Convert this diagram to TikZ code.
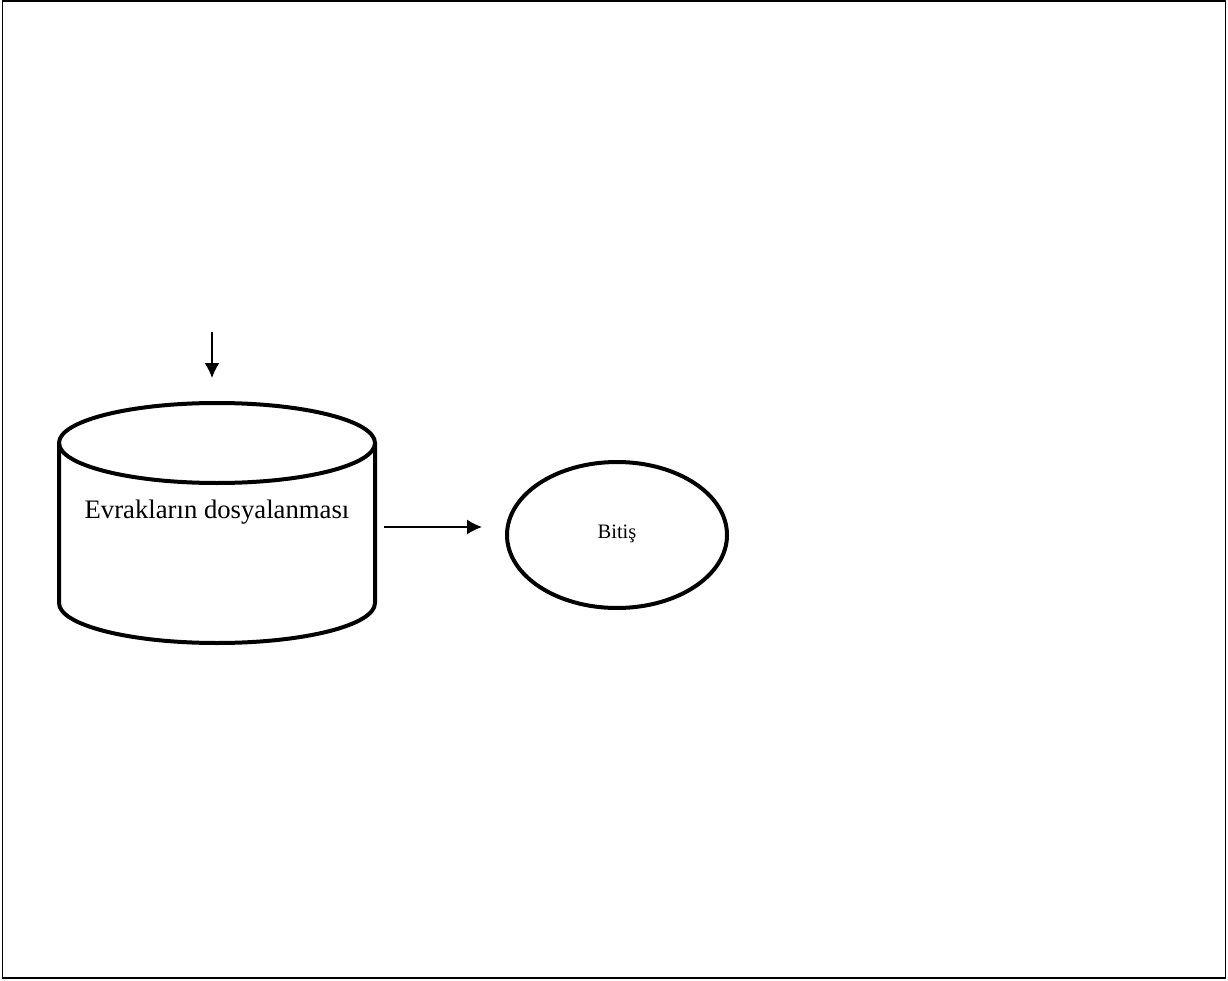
\documentclass[tikz,border=0pt]{standalone}
\usepackage{fontspec}
\setmainfont{Liberation Serif}
\usetikzlibrary{shapes.geometric,arrows.meta}

\begin{document}
\begin{tikzpicture}[x=1pt, y=-1pt, >={Latex[length=15pt,width=15pt]}]
    % Sayfa çerçevesi
    \useasboundingbox (0,0) rectangle (1228,981);
    \draw[line width=1.5pt] (2.5,0.8) rectangle (1225.5,978.2);

    % 1. Evrakların dosyalanması (silindir)
    \draw[line width=4pt] (217,443) ellipse[x radius=158pt, y radius=40pt];
    \draw[line width=4pt, line join=round] (59,443) -- (59,603)
        arc[start angle=180, end angle=360, x radius=158pt, y radius=40pt] -- (375,443);
    \node[font=\fontsize{26.7}{30}\selectfont] (evrak) at (217,512) {Evrakların dosyalanması};

    % Giriş oku
    \coordinate (giris) at (212,332);
    \coordinate (silindirust) at (212,403);
    \draw[->, line width=1.5pt, shorten >=25pt] (giris) -- (silindirust);

    % 2. Bitiş (elips)
    \node[ellipse, draw, line width=4pt, minimum width=220pt, minimum height=146pt,
          inner sep=0pt, font=\fontsize{20.5}{24}\selectfont]
        (bitis) at (617,535) {\raisebox{6pt}{Bitiş}};

    % Bitiş oku
    \coordinate (silindirsag) at (375,527);
    \draw[->, line width=1.5pt, shorten <=9pt, shorten >=23pt]
        (silindirsag) -- (bitis.west |- silindirsag);
\end{tikzpicture}
\end{document}
